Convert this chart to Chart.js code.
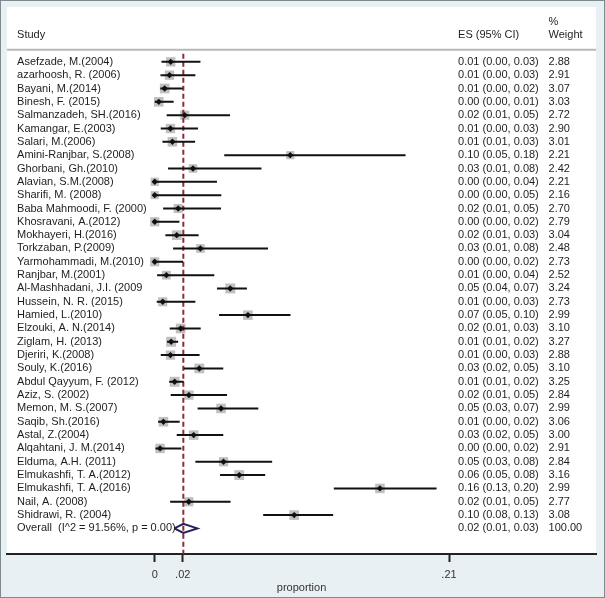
<!DOCTYPE html>
<html><head><meta charset="utf-8">
<script src="https://cdn.jsdelivr.net/npm/chart.js@4.4.1/dist/chart.umd.min.js"></script>
<style>html,body{margin:0;padding:0;background:#e8f0f3;}canvas{display:block;}</style>
</head><body>
<canvas id="c" width="605" height="598"></canvas>
<script>
const studies = [
  "Asefzade, M.(2004)", "azarhoosh, R. (2006)", "Bayani, M.(2014)", "Binesh, F. (2015)",
  "Salmanzadeh, SH.(2016)", "Kamangar, E.(2003)", "Salari, M.(2006)", "Amini-Ranjbar, S.(2008)",
  "Ghorbani, Gh.(2010)", "Alavian, S.M.(2008)", "Sharifi, M. (2008)", "Baba Mahmoodi, F. (2000)",
  "Khosravani, A.(2012)", "Mokhayeri, H.(2016)", "Torkzaban, P.(2009)", "Yarmohammadi, M.(2010)",
  "Ranjbar, M.(2001)", "Al-Mashhadani, J.I. (2009", "Hussein, N. R. (2015)", "Hamied, L.(2010)",
  "Elzouki, A. N.(2014)", "Ziglam, H. (2013)", "Djeriri, K.(2008)", "Souly, K.(2016)",
  "Abdul Qayyum, F. (2012)", "Aziz, S. (2002)", "Memon, M. S.(2007)", "Saqib, Sh.(2016)",
  "Astal, Z.(2004)", "Alqahtani, J. M.(2014)", "Elduma, A.H. (2011)", "Elmukashfi, T. A.(2012)",
  "Elmukashfi, T. A.(2016)", "Nail, A. (2008)", "Shidrawi, R. (2004)"
];
const es = [
  0.0114, 0.0105, 0.0071, 0.0029, 0.0214, 0.0112, 0.0126, 0.0967,
  0.0273, 0.0000, 0.0000, 0.0167, 0.0000, 0.0157, 0.0326, 0.0000,
  0.0083, 0.0539, 0.0057, 0.0665, 0.0185, 0.0117, 0.0112, 0.0318,
  0.0142, 0.0244, 0.0473, 0.0062, 0.0278, 0.0038, 0.0491, 0.0603,
  0.1607, 0.0243, 0.0995
];
const lo = [
  0.0048, 0.0041, 0.0040, 0.0000, 0.0085, 0.0043, 0.0055, 0.0496,
  0.0095, 0.0000, 0.0000, 0.0060, 0.0000, 0.0076, 0.0131, 0.0000,
  0.0017, 0.0444, 0.0014, 0.0459, 0.0107, 0.0088, 0.0043, 0.0207,
  0.0103, 0.0114, 0.0306, 0.0024, 0.0157, 0.0005, 0.0290, 0.0466,
  0.1278, 0.0110, 0.0774
];
const hi = [
  0.0326, 0.0290, 0.0200, 0.0135, 0.0537, 0.0309, 0.0288, 0.1790,
  0.0762, 0.0444, 0.0475, 0.0473, 0.0176, 0.0313, 0.0808, 0.0202,
  0.0425, 0.0658, 0.0290, 0.0969, 0.0328, 0.0167, 0.0320, 0.0489,
  0.0207, 0.0516, 0.0739, 0.0178, 0.0489, 0.0190, 0.0838, 0.0788,
  0.2011, 0.0541, 0.1273
];
const weights = [
  2.88, 2.91, 3.07, 3.03, 2.72, 2.90, 3.01, 2.21,
  2.42, 2.21, 2.16, 2.70, 2.79, 3.04, 2.48, 2.73,
  2.52, 3.24, 2.73, 2.99, 3.10, 3.27, 2.88, 3.10,
  3.25, 2.84, 2.99, 3.06, 3.00, 2.91, 2.84, 3.16,
  2.99, 2.77, 3.08
];
const overallLabel = "Overall  (I^2 = 91.56%, p = 0.00)";
const overallES = 0.0204;
const overallLo = 0.0140;
const overallHi = 0.0304;
const overallWeight = 100;
const tickValues = [0, 0.02, 0.21];
const tickLabels = ["0", ".02", ".21"];
const axisTitle = "proportion";
const headers = {study: "Study", es: "ES (95% CI)", pct: "%", weight: "Weight"};

const FONT = "'Liberation Sans', Arial, sans-serif";
const overallRow = studies.length;
const Y_MIN = -4.11, Y_MAX = 36.92;
const X_MIN = -0.1054, X_MAX = 0.3149;

const fmt = v => v.toFixed(2);
const ciText = (e, l, h) => fmt(e) + " (" + fmt(l) + ", " + fmt(h) + ")";

const ciData = [];
studies.forEach((s, i) => {
  ciData.push({x: lo[i], y: i}, {x: hi[i], y: i}, {x: null, y: null});
});

const D = 0.34;
const diamondData = [
  {x: overallLo, y: overallRow}, {x: overallES, y: overallRow - D},
  {x: overallHi, y: overallRow}, {x: overallES, y: overallRow + D},
  {x: overallLo, y: overallRow}
];

const framePlugin = {
  id: 'frame',
  beforeDraw(chart) {
    const {ctx, chartArea: a, width, height} = chart;
    ctx.save();
    ctx.fillStyle = '#e8f0f3';
    ctx.fillRect(0, 0, width, height);
    ctx.fillStyle = '#ffffff';
    ctx.fillRect(a.left, a.top, a.right - a.left, a.bottom - a.top);
    ctx.strokeStyle = '#7d8a8e';
    ctx.lineWidth = 1;
    ctx.strokeRect(0.5, 0.5, width - 1, height - 1);
    const yS = chart.scales.y;
    const hy = yS.getPixelForValue(-0.9);
    ctx.strokeStyle = '#b8b8b8';
    ctx.lineWidth = 2;
    ctx.beginPath();
    ctx.moveTo(a.left, hy);
    ctx.lineTo(a.right, hy);
    ctx.stroke();
    ctx.restore();
  },
  afterDatasetsDraw(chart) {
    const {ctx, chartArea: a} = chart;
    const yS = chart.scales.y;
    const xStudy = a.left + 10;
    const xES = a.left + 451;
    const xW = a.left + 541.5;
    ctx.save();
    ctx.font = "11px " + FONT;
    ctx.fillStyle = '#1e1e1e';
    ctx.textBaseline = 'middle';
    ctx.textAlign = 'left';
    const yh = yS.getPixelForValue(-2.02);
    ctx.fillText(headers.study, xStudy, yh);
    ctx.fillText(headers.es, xES, yh);
    ctx.fillText(headers.weight, xW, yh);
    ctx.fillText(headers.pct, xW, yS.getPixelForValue(-2.99));
    studies.forEach((s, i) => {
      const y = yS.getPixelForValue(i);
      ctx.fillText(s, xStudy, y);
      ctx.fillText(ciText(es[i], lo[i], hi[i]), xES, y);
      ctx.fillText(fmt(weights[i]), xW, y);
    });
    const yo = yS.getPixelForValue(overallRow);
    ctx.fillText(overallLabel, xStudy, yo);
    ctx.fillText(ciText(overallES, overallLo, overallHi), xES, yo);
    ctx.fillText(fmt(overallWeight), xW, yo);
    ctx.restore();
  }
};

new Chart(document.getElementById('c'), {
  type: 'scatter',
  data: {
    datasets: [
      {
        type: 'scatter',
        data: es.map((v, i) => ({x: v, y: i})),
        pointStyle: 'rectRot', pointRadius: 3.2,
        backgroundColor: '#111', borderWidth: 0, order: 0
      },
      {
        type: 'line',
        data: diamondData,
        borderColor: '#22225c', borderWidth: 2, pointRadius: 0,
        fill: false, tension: 0, order: 0
      },
      {
        type: 'line',
        data: ciData,
        borderColor: '#111', borderWidth: 2, pointRadius: 0,
        spanGaps: false, fill: false, tension: 0, order: 1
      },
      {
        type: 'line',
        data: [{x: overallES, y: -0.6}, {x: overallES, y: Y_MAX}],
        borderColor: '#8c2a3a', borderWidth: 2, borderDash: [5, 3],
        pointRadius: 0, fill: false, order: 2
      },
      {
        type: 'scatter',
        data: es.map((v, i) => ({x: v, y: i})),
        pointStyle: 'rect',
        pointRadius: weights.map(w => 3.9 * Math.sqrt(w)),
        backgroundColor: '#c0c0c0', borderWidth: 0, order: 3
      }
    ]
  },
  options: {
    responsive: false,
    animation: false,
    devicePixelRatio: 1,
    events: [],
    layout: {padding: {left: 7, right: 9, top: 5, bottom: 0}},
    plugins: {legend: {display: false}, tooltip: {enabled: false}},
    scales: {
      x: {
        type: 'linear', min: X_MIN, max: X_MAX,
        afterBuildTicks: axis => { axis.ticks = tickValues.map(v => ({value: v})); },
        afterFit: axis => { axis.height = 44; },
        ticks: {
          callback: (v, idx) => tickLabels[idx],
          font: {family: FONT, size: 11}, color: '#333', padding: 6, maxRotation: 0,
          autoSkip: false
        },
        grid: {display: true, drawOnChartArea: false, drawTicks: true, tickLength: 8,
               tickWidth: 2, tickColor: '#222'},
        border: {display: true, color: '#222', width: 2},
        title: {display: true, text: axisTitle, font: {family: FONT, size: 11},
                color: '#333', padding: {top: 0, bottom: 3}}
      },
      y: {
        type: 'linear', min: Y_MIN, max: Y_MAX, reverse: true, display: false
      }
    }
  },
  plugins: [framePlugin]
});
</script>
</body></html>
